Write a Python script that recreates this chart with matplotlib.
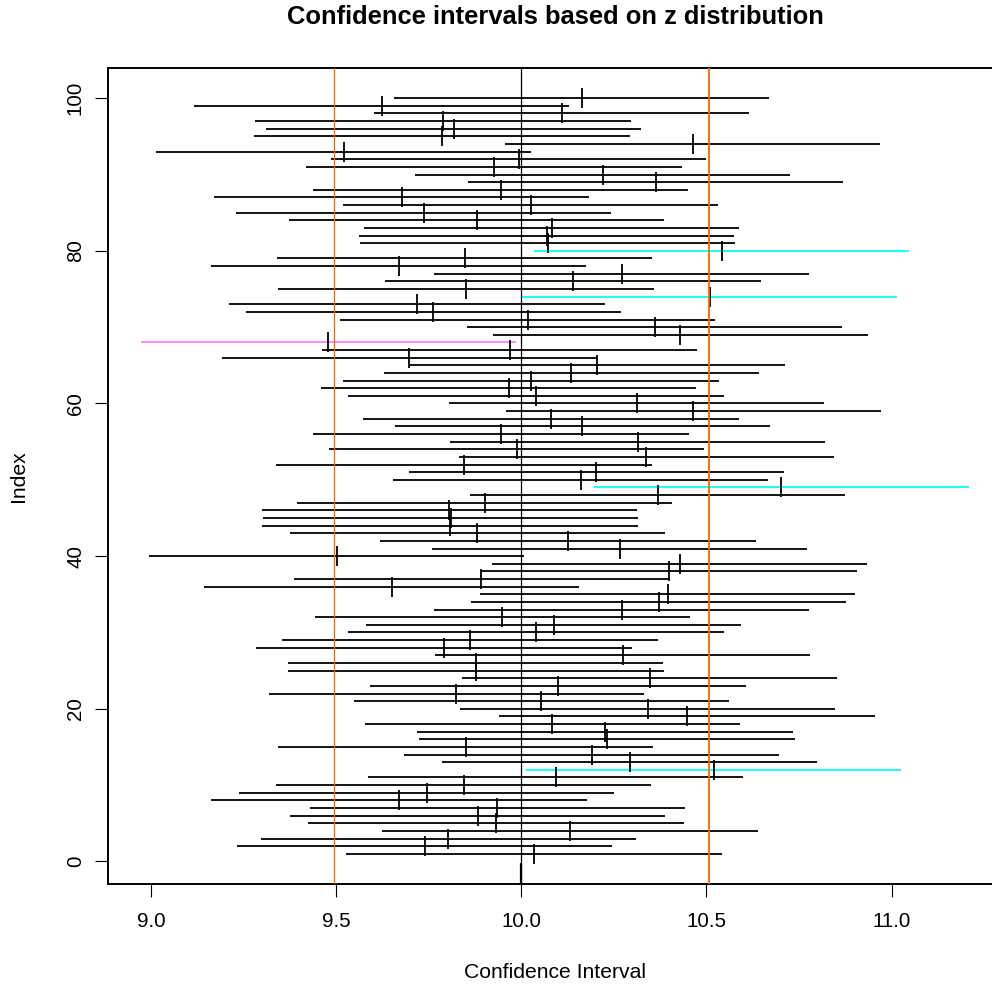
import numpy as np
import matplotlib
matplotlib.use("Agg")
import matplotlib.pyplot as plt

plt.rcParams['font.family'] = ['Liberation Sans', 'DejaVu Sans']

# -----------------------
# Data: sample means (index 1..100)
# -----------------------
index = np.arange(1, 101)
means = [
    10.034, 9.739, 9.802, 10.131, 9.931, 9.882, 9.935, 9.669, 9.744, 9.844,    # 1-10
    10.093, 10.519, 10.292, 10.190, 9.849, 10.231, 10.226, 10.083, 10.447, 10.341,  # 11-20
    10.054, 9.824, 10.099, 10.347, 9.877, 9.876, 10.274, 9.791, 9.861, 10.039,  # 21-30
    10.087, 9.948, 10.271, 10.371, 10.395, 9.649, 9.892, 10.399, 10.428, 9.501,  # 31-40
    10.265, 10.126, 9.881, 9.807, 9.809, 9.805, 9.901, 10.368, 10.702, 10.160,  # 41-50
    10.202, 9.845, 10.337, 9.987, 10.314, 9.945, 10.164, 10.080, 10.464, 10.311,  # 51-60
    10.039, 9.966, 10.026, 10.135, 10.205, 9.697, 9.968, 9.478, 10.429, 10.360,  # 61-70
    10.017, 9.762, 9.718, 10.509, 9.850, 10.139, 10.271, 9.668, 9.847, 10.541,  # 71-80
    10.071, 10.068, 10.082, 9.879, 9.736, 10.025, 9.676, 9.944, 10.363, 10.220,  # 81-90
    9.926, 9.993, 9.520, 10.463, 9.785, 9.817, 9.788, 10.109, 9.622, 10.163,  # 91-100
]
mu = 10.0
half_width = 0.507

means = np.array(means)
lower = means - half_width
upper = means + half_width

# colour by whether the interval misses mu
colors = []
for lo, hi in zip(lower, upper):
    if lo > mu:
        colors.append('cyan')
    elif hi < mu:
        colors.append('#FF80FF')
    else:
        colors.append('black')

# -----------------------
# Plotting
# -----------------------
W, H = 992, 986
fig = plt.figure(figsize=(W / 100, H / 100), dpi=100)
ax = fig.add_axes([107.5 / W, (H - 884) / H, (1002 - 107.5) / W, (884 - 68) / H])

lw = 1.3
ax.hlines(index, lower, upper, colors=colors, linewidth=lw, zorder=2)
ax.vlines(means, index - 1.31, index + 1.31, colors='black', linewidth=lw, zorder=3)

ax.axvline(mu, color='black', linewidth=0.9, zorder=1)
ax.vlines(mu, -2.96, -0.2, colors='black', linewidth=1.6, zorder=1)
ax.axvline(mu - half_width, color='#FF6400', linewidth=0.9, zorder=4)
ax.axvline(mu + half_width, color='#FF6400', linewidth=1.3, zorder=4)

ax.set_xlim(8.8815, 11.2985)
ax.set_ylim(-2.96, 103.96)

ax.set_xticks([9.0, 9.5, 10.0, 10.5, 11.0])
ax.set_xticklabels(['9.0', '9.5', '10.0', '10.5', '11.0'])
ax.set_yticks([0, 20, 40, 60, 80, 100])
ax.tick_params(axis='both', direction='out', length=9.2, width=0.8, labelsize=14.8)
ax.tick_params(axis='x', pad=11)
ax.tick_params(axis='y', pad=7)
plt.setp(ax.get_yticklabels(), rotation=90, va='center')

for side in ['left', 'bottom', 'top', 'right']:
    ax.spines[side].set_linewidth(1.4)

fig.text(555 / W, 1 - 17 / H, "Confidence intervals based on z distribution",
         ha='center', va='center', fontsize=18.4, fontweight='bold')
fig.text(555 / W, 1 - 973 / H, "Confidence Interval", ha='center', va='center', fontsize=15.2)
fig.text(19 / W, 1 - 476 / H, "Index", ha='center', va='center', rotation=90, fontsize=15.2)

fig.savefig("out.png", dpi=100)
